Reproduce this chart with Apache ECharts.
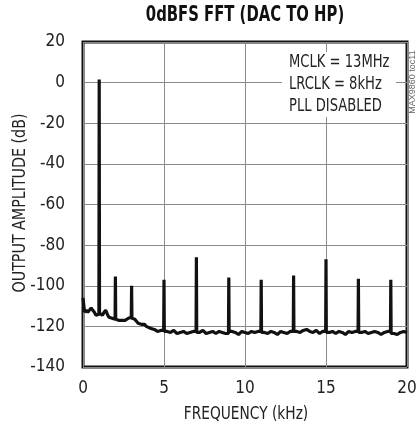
<!DOCTYPE html>
<html>
<head>
<meta charset="utf-8">
<script src="https://cdn.jsdelivr.net/npm/echarts@6/dist/echarts.min.js"></script>
<style>
html,body{margin:0;padding:0;background:#fff;}
#chart{width:417px;height:429px;}
</style>
</head>
<body>
<div id="chart"></div>
<script>
// Noise floor (frequency kHz, amplitude dB)
var noiseFreq = [0,0.1,0.2,0.3,0.4,0.5,0.6,0.7,0.8,0.9,
  1.1,1.2,1.3,1.4,1.5,1.6,1.7,1.8,1.9,
  2.1,2.2,2.3,2.4,2.5,2.6,2.7,2.8,2.9,
  3.1,3.2,3.3,3.4,3.5,3.6,3.7,3.8,3.9,4.0,4.2,4.4,4.6,4.8,
  5.2,5.4,5.6,5.8,6.0,6.2,6.4,6.6,6.8,
  7.2,7.4,7.6,7.8,8.0,8.2,8.4,8.6,8.8,
  9.2,9.4,9.6,9.8,10.0,10.2,10.4,10.6,10.8,
  11.2,11.4,11.6,11.8,12.0,12.2,12.4,12.6,12.8,
  13.2,13.4,13.6,13.8,14.0,14.2,14.4,14.6,14.8,
  15.2,15.4,15.6,15.8,16.0,16.2,16.4,16.6,16.8,
  17.2,17.4,17.6,17.8,18.0,18.2,18.4,18.6,18.8,
  19.2,19.4,19.6,19.8,20.0];
var noiseDb = [-106,-113,-112,-113,-112,-111,-111.5,-113,-114.5,-114,
  -113.5,-114.5,-113,-112,-114,-115.5,-116,-116,-116.5,
  -116.5,-117,-116.5,-117,-116.5,-117,-116.5,-116,-115.5,
  -116,-116.5,-117,-118.5,-118,-119,-119.5,-119,-120,-120.5,-121,-121.5,-122.5,-122,
  -122.5,-123,-122,-123.5,-123,-122.5,-123.5,-123,-122.5,
  -123,-122,-123.5,-123,-122.5,-123.5,-122.5,-123,-123.5,
  -122.5,-123,-124,-122.5,-123,-123.5,-122.5,-123,-122.5,
  -123,-123.5,-122.5,-123,-124,-122.5,-123,-123.5,-122.5,
  -122.5,-123,-122,-121.5,-122.5,-123,-122,-123.5,-122.5,
  -123,-122.5,-123.5,-122.5,-123,-124,-122.5,-123,-122.5,
  -123,-122.5,-123.5,-123,-122.5,-123,-124,-123,-122.5,
  -123.5,-124,-123,-122.5,-123];
// Harmonic spikes
var spikeFreq = [1,2,3,5,7,9,11,13,15,17,19];
var spikeDb = [1.5,-95.5,-100,-97,-86,-96,-97,-95,-87,-96.5,-97];
var xTicks = [0,5,10,15,20];
var yTicks = [-140,-120,-100,-80,-60,-40,-20,0,20];

var pts = [];
for (var i = 0; i < noiseFreq.length; i++) pts.push([noiseFreq[i], noiseDb[i]]);
for (var j = 0; j < spikeFreq.length; j++) {
  var f = spikeFreq[j];
  var lo = null, hi = null;
  for (var k = 0; k < noiseFreq.length; k++) {
    if (noiseFreq[k] < f) lo = noiseDb[k];
    if (noiseFreq[k] > f && hi === null) hi = noiseDb[k];
  }
  pts.push([f - 0.02, lo]);
  pts.push([f, spikeDb[j]]);
  pts.push([f + 0.02, hi]);
}
pts.sort(function(a,b){return a[0]-b[0];});

var FONT = '"DejaVu Sans Condensed","Liberation Sans",sans-serif';
var chart = echarts.init(document.getElementById('chart'));
chart.setOption({
  animation: false,
  backgroundColor: '#fff',
  grid: {left: 83, right: 10, top: 42, bottom: 62, show: true, outerBoundsMode: 'none',
    containLabel: false, borderColor: '#111', borderWidth: 3, backgroundColor: 'transparent'},
  xAxis: {
    type: 'value', min: 0, max: 20, interval: 5,
    axisLine: {show: false}, axisTick: {show: false},
    axisLabel: {fontFamily: FONT, fontSize: 17, color: '#222', margin: 13,
      formatter: function(v){ return xTicks.indexOf(v) >= 0 ? String(v) : ''; }},
    splitLine: {show: true, lineStyle: {color: '#8a8a8a', width: 1}}
  },
  yAxis: {
    type: 'value', min: -140, max: 20, interval: 20,
    axisLine: {show: false}, axisTick: {show: false},
    axisLabel: {fontFamily: FONT, fontSize: 17, color: '#222', margin: 18,
      formatter: function(v){ return yTicks.indexOf(v) >= 0 ? String(v) : ''; }},
    splitLine: {show: true, lineStyle: {color: '#8a8a8a', width: 1}}
  },
  graphic: [
    {type: 'text', z: 101, x: 245, y: 16, scaleX: 0.785, style: {
      text: '0dBFS FFT (DAC TO HP)', font: 'bold 21px ' + FONT, fill: '#111',
      textAlign: 'center', textVerticalAlign: 'middle'}},
    {type: 'text', z: 101, x: 246, y: 414, scaleX: 0.85, style: {
      text: 'FREQUENCY (kHz)', font: '18px ' + FONT, fill: '#222',
      textAlign: 'center', textVerticalAlign: 'middle'}},
    {type: 'text', z: 101, x: 20, y: 203, rotation: Math.PI / 2, scaleX: 0.88, style: {
      text: 'OUTPUT AMPLITUDE (dB)', font: '18px ' + FONT, fill: '#222',
      textAlign: 'center', textVerticalAlign: 'middle'}},
    {type: 'rect', z: 100, shape: {x: 282, y: 52, width: 114, height: 65}, style: {fill: '#fff'}},
    {type: 'text', z: 101, x: 289, y: 51, scaleX: 0.81, style: {
      text: 'MCLK = 13MHz\nLRCLK = 8kHz\nPLL DISABLED',
      font: '18px ' + FONT, lineHeight: 22, fill: '#222', textAlign: 'left', textVerticalAlign: 'top'}},
    {type: 'text', z: 101, x: 413, y: 82, rotation: Math.PI / 2, style: {
      text: 'MAX9860 toc11', font: '9px "Liberation Sans",sans-serif', fill: '#666',
      textAlign: 'center', textVerticalAlign: 'middle'}}
  ],
  series: [{
    type: 'line', data: pts, symbol: 'none', z: 5,
    lineStyle: {color: '#111', width: 3.2}
  }]
});
</script>
</body>
</html>
